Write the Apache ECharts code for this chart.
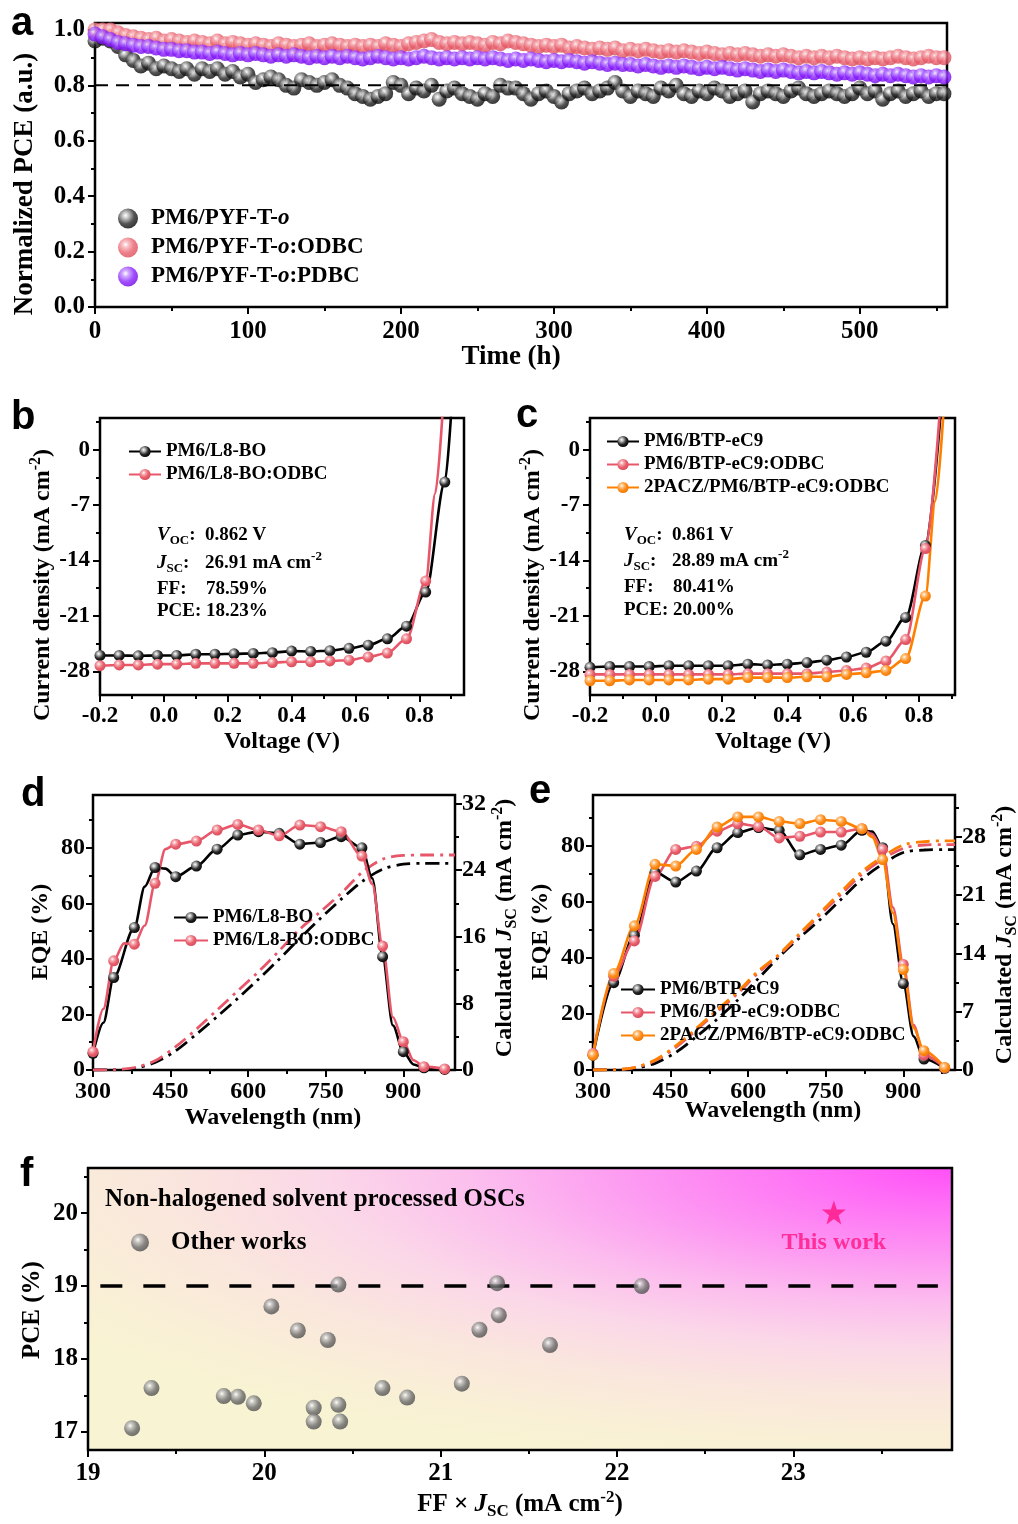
<!DOCTYPE html>
<html>
<head>
<meta charset="utf-8">
<script src="https://cdn.jsdelivr.net/npm/echarts@6.0.0/dist/echarts.min.js"></script>
<style>
  html, body { margin: 0; padding: 0; background: #fff; }
  #chart { width: 1018px; height: 1524px; }
</style>
</head>
<body>
<div id="chart"></div>
<script>
// ---------- (a) stability: normalized PCE, one reading every 5 h ----------
const stepHours = 5;
const pceBase = [
  0.96, 0.97, 0.96, 0.94, 0.91, 0.89, 0.87, 0.88, 0.86, 0.87,
  0.86, 0.85, 0.86, 0.84, 0.86, 0.85, 0.86, 0.84, 0.85, 0.83,
  0.84, 0.81, 0.82, 0.83, 0.82, 0.80, 0.79, 0.82, 0.81, 0.80,
  0.81, 0.82, 0.80, 0.79, 0.77, 0.76, 0.75, 0.76, 0.77, 0.81,
  0.80, 0.77, 0.79, 0.78, 0.80, 0.75, 0.78, 0.79, 0.77, 0.76,
  0.75, 0.77, 0.76, 0.80, 0.79, 0.79, 0.77, 0.75, 0.77, 0.78,
  0.76, 0.74, 0.77, 0.78, 0.79, 0.77, 0.78, 0.79, 0.81, 0.78,
  0.76, 0.78, 0.77, 0.76, 0.79, 0.78, 0.80, 0.77, 0.76, 0.78,
  0.77, 0.79, 0.78, 0.76, 0.77, 0.78, 0.74, 0.77, 0.78, 0.77,
  0.76, 0.78, 0.79, 0.77, 0.76, 0.77, 0.78, 0.77, 0.76, 0.77,
  0.79, 0.77, 0.78, 0.75, 0.77, 0.78, 0.76, 0.77, 0.78, 0.76,
  0.77, 0.77
];
const pceOdbc = [
  1.00, 1.00, 1.00, 0.99, 0.98, 0.975, 0.97, 0.965, 0.97, 0.96,
  0.965, 0.96, 0.955, 0.96, 0.955, 0.95, 0.96, 0.95, 0.955, 0.95,
  0.945, 0.95, 0.945, 0.94, 0.95, 0.945, 0.94, 0.945, 0.95, 0.94,
  0.945, 0.95, 0.945, 0.94, 0.945, 0.94, 0.945, 0.94, 0.95, 0.945,
  0.94, 0.95, 0.955, 0.96, 0.965, 0.955, 0.95, 0.955, 0.95, 0.955,
  0.95, 0.945, 0.955, 0.95, 0.96, 0.955, 0.95, 0.945, 0.94, 0.945,
  0.94, 0.945, 0.935, 0.94, 0.935, 0.93, 0.935, 0.93, 0.935, 0.925,
  0.93, 0.925, 0.93, 0.925, 0.92, 0.925, 0.92, 0.925, 0.92, 0.915,
  0.92, 0.915, 0.91, 0.915, 0.91, 0.915, 0.91, 0.905, 0.91, 0.905,
  0.91, 0.905, 0.90, 0.905, 0.90, 0.905, 0.90, 0.905, 0.90, 0.895,
  0.90, 0.895, 0.90, 0.895, 0.90, 0.905, 0.90, 0.895, 0.90, 0.905,
  0.90, 0.90
];
const pcePdbc = [
  0.985, 0.975, 0.965, 0.955, 0.95, 0.945, 0.94, 0.94, 0.935, 0.93,
  0.93, 0.925, 0.925, 0.92, 0.92, 0.915, 0.92, 0.915, 0.91, 0.915,
  0.91, 0.915, 0.91, 0.905, 0.91, 0.905, 0.91, 0.905, 0.90, 0.905,
  0.90, 0.905, 0.90, 0.905, 0.90, 0.895, 0.90, 0.905, 0.90, 0.895,
  0.90, 0.895, 0.90, 0.905, 0.90, 0.895, 0.90, 0.895, 0.90, 0.895,
  0.90, 0.895, 0.90, 0.895, 0.89, 0.895, 0.89, 0.895, 0.89, 0.885,
  0.89, 0.885, 0.89, 0.885, 0.88, 0.885, 0.88, 0.875, 0.88, 0.875,
  0.875, 0.87, 0.875, 0.87, 0.865, 0.87, 0.865, 0.87, 0.865, 0.86,
  0.865, 0.86, 0.865, 0.86, 0.855, 0.86, 0.855, 0.85, 0.855, 0.85,
  0.855, 0.85, 0.845, 0.85, 0.845, 0.85, 0.845, 0.84, 0.845, 0.84,
  0.845, 0.84, 0.835, 0.84, 0.835, 0.84, 0.835, 0.83, 0.835, 0.83,
  0.835, 0.83
];
const retention = 0.8;

// ---------- (b), (c) J-V curves ----------
const voltages = [-0.2, -0.14, -0.08, -0.02, 0.04, 0.10, 0.16, 0.22, 0.28, 0.34,
  0.40, 0.46, 0.52, 0.58, 0.64, 0.70, 0.76, 0.82, 0.88];
const jvL8BO = [-26.0, -26.0, -26.05, -26.0, -26.0, -25.85, -25.85, -25.8, -25.75, -25.65,
  -25.45, -25.5, -25.4, -25.1, -24.7, -23.9, -22.3, -18.0, -4.1];
const jvL8BOTail = [[0.902, 6]];
const jvL8BOOdbc = [-27.3, -27.2, -27.2, -27.1, -27.1, -27.0, -27.0, -27.0, -27.0, -26.9,
  -26.8, -26.8, -26.7, -26.6, -26.2, -25.7, -23.9, -16.6];
const jvL8BOOdbcTail = [[0.85, -5.5], [0.875, 6]];
const jvEC9 = [-27.5, -27.4, -27.4, -27.4, -27.3, -27.3, -27.3, -27.3, -27.1, -27.2,
  -27.1, -26.9, -26.6, -26.2, -25.6, -24.2, -21.2, -12.1];
const jvEC9Tail = [[0.869, 6]];
const jvEC9Odbc = [-28.4, -28.4, -28.4, -28.4, -28.4, -28.4, -28.4, -28.4, -28.3, -28.3,
  -28.3, -28.3, -28.1, -27.9, -27.6, -26.7, -24.0, -12.5];
const jvEC9OdbcTail = [[0.866, 6]];
const jvEC9Pacz = [-29.2, -29.2, -29.1, -29.1, -29.1, -29.1, -29.0, -29.0, -28.8, -28.8,
  -28.8, -28.7, -28.7, -28.4, -28.2, -27.9, -26.4, -18.5];
const jvEC9PaczTail = [[0.85, -6.5], [0.877, 6]];

// ---------- (d), (e) EQE and integrated Jsc ----------
const wavelengths = [300, 340, 380, 420, 460, 500, 540, 580, 620, 660, 700, 740, 780, 820, 860, 900, 940, 980];
const eqeL8BO = [6.0, 33.3, 51.3, 72.9, 69.6, 73.4, 79.5, 84.6, 85.8, 85.2, 81.3, 81.9, 84.0, 80.0, 40.8, 6.6, 0.8, 0.2];
const eqeL8BOExtra = [[320, 17], [400, 66], [440, 72.5], [840, 69], [880, 16], [920, 2.0]];
const eqeL8BOOdbc = [6.6, 39.3, 45.3, 67.2, 81.3, 82.4, 86.4, 88.4, 86.4, 84.3, 88.2, 87.6, 85.8, 77.0, 44.6, 10.2, 1.2, 0.4];
const eqeL8BOOdbcExtra = [[320, 22], [360, 45.6], [400, 52], [440, 79.5], [840, 67], [880, 19], [920, 3.5]];
const eqeEC9 = [5.3, 31.1, 48.0, 70.5, 67.0, 70.9, 79.2, 84.6, 86.4, 85.4, 76.7, 78.6, 80.1, 85.4, 79.2, 30.8, 3.9, 0.6];
const eqeEC9Extra = [[840, 85], [880, 52], [920, 12]];
const eqeEC9Odbc = [5.9, 33.4, 46.0, 69.0, 78.6, 79.7, 85.1, 87.8, 86.8, 82.7, 83.3, 84.8, 84.8, 86.0, 78.6, 37.6, 5.3, 0.8];
const eqeEC9OdbcExtra = [[840, 84], [880, 58], [920, 16]];
const eqeEC9Pacz = [5.3, 34.4, 51.4, 73.3, 72.7, 78.6, 86.6, 90.2, 90.2, 88.6, 87.8, 89.2, 88.6, 86.0, 75.0, 35.8, 6.9, 0.9];
const eqeEC9PaczExtra = [[840, 83], [880, 56], [920, 15]];

const jscWavelengths = [300, 340, 380, 420, 460, 500, 540, 580, 620, 660, 700, 740, 780, 820, 860, 900, 940, 980, 1000];
const jscL8BO = [0, 0.02, 0.2, 0.9, 2.3, 4.3, 6.4, 8.6, 10.9, 13.3, 15.8, 18.2, 20.5, 22.6, 24.1, 24.7, 24.8, 24.8, 24.8];
const jscL8BOOdbc = [0, 0.03, 0.3, 1.1, 2.8, 4.9, 7.2, 9.5, 11.8, 14.3, 16.9, 19.0, 21.2, 23.7, 25.3, 25.75, 25.8, 25.8, 25.8];
const jscEC9 = [0, 0.02, 0.2, 0.8, 2.1, 4.0, 6.1, 8.4, 11.0, 13.6, 15.9, 18.1, 20.5, 22.9, 24.7, 26.1, 26.4, 26.45, 26.45];
const jscEC9Odbc = [0, 0.03, 0.28, 1.1, 2.7, 4.8, 7.0, 9.2, 11.7, 13.8, 16.2, 18.7, 21.1, 23.5, 25.3, 26.6, 27.0, 27.05, 27.05];
const jscEC9Pacz = [0, 0.03, 0.3, 1.2, 2.9, 5.0, 7.2, 9.4, 11.9, 13.9, 16.4, 18.9, 21.4, 23.8, 25.6, 27.0, 27.4, 27.5, 27.5];

// ---------- (f) literature comparison ----------
const otherFFJsc = [19.25, 19.36, 19.77, 19.85, 19.94, 20.04, 20.19, 20.28, 20.28, 20.36, 20.42,
  20.42, 20.43, 20.67, 20.81, 21.12, 21.22, 21.32, 21.33, 21.62, 22.14];
const otherPCE = [17.05, 17.60, 17.49, 17.48, 17.39, 18.72, 18.39, 17.33, 17.14, 18.26, 19.02,
  17.37, 17.14, 17.60, 17.47, 17.66, 18.40, 19.04, 18.60, 18.19, 19.00];
const thisWork = [23.23, 20.01];
const pceGuide = 19;
const pceGuideSpan = [19.07, 23.82];

// tick positions
const ticksA = { x: [0, 100, 200, 300, 400, 500], xm: [50, 150, 250, 350, 450, 550],
  y: [0, 0.2, 0.4, 0.6, 0.8, 1.0], ym: [0.1, 0.3, 0.5, 0.7, 0.9] };
const ticksJV = { x: [-0.2, 0, 0.2, 0.4, 0.6, 0.8], xm: [-0.1, 0.1, 0.3, 0.5, 0.7, 0.9],
  y: [-28, -21, -14, -7, 0], ym: [-31.5, -24.5, -17.5, -10.5, -3.5, 3.5] };
const ticksEQE = { x: [300, 450, 600, 750, 900], xm: [375, 525, 675, 825, 975],
  y: [0, 20, 40, 60, 80], ym: [10, 30, 50, 70, 90] };
const ticksJscD = { y: [0, 8, 16, 24, 32], ym: [4, 12, 20, 28] };
const ticksJscE = { y: [0, 7, 14, 21, 28], ym: [3.5, 10.5, 17.5, 24.5, 31.5] };
const ticksF = { x: [19, 20, 21, 22, 23], xm: [19.5, 20.5, 21.5, 22.5, 23.5],
  y: [17, 18, 19, 20], ym: [17.5, 18.5, 19.5, 20.5] };

const FONT = "'Liberation Serif', 'Times New Roman', serif";
const SANS = "'Liberation Sans', Arial, sans-serif";

function rich(size, lh) {
  const base = { fontFamily: FONT, fontWeight: 'bold', fontSize: size, color: '#000', lineHeight: lh };
  const small = Math.round(size * 0.66);
  const sl = lh - 14;
  return {
    n: base,
    i: Object.assign({}, base, { fontStyle: 'italic' }),
    sub: Object.assign({}, base, { fontSize: small, lineHeight: sl, verticalAlign: 'bottom' }),
    sup: Object.assign({}, base, { fontSize: small, lineHeight: sl, verticalAlign: 'top' })
  };
}

function ball(stops) {
  return new echarts.graphic.RadialGradient(0.38, 0.35, 0.7, [
    { offset: 0, color: '#ffffff' },
    { offset: 0.22, color: stops[0] },
    { offset: 0.6, color: stops[1] },
    { offset: 1, color: stops[2] }
  ]);
}
const BALL_BLACK = ['#b8b8b8', '#2a2a2a', '#000000'];
const BALL_RED = ['#f6b0b6', '#e8606d', '#d94a59'];
const BALL_PURPLE = ['#c596ff', '#8a22ff', '#6e00e0'];
const BALL_ORANGE = ['#ffc78a', '#ff8c1a', '#ef7600'];
const BALL_GREY = ['#bcbcbc', '#6c6c6c', '#484848'];
const RED = '#e8566a';
const ORANGE = '#ff8000';

const grids = [
  { left: 95, top: 23, width: 852, height: 284 },
  { left: 100, top: 418, width: 364, height: 277 },
  { left: 590, top: 418, width: 365, height: 277 },
  { left: 93, top: 795, width: 362, height: 275 },
  { left: 593, top: 795, width: 362, height: 275 },
  { left: 88, top: 1168, width: 864, height: 282 }
].map(g => Object.assign({
  show: true, borderColor: '#000', borderWidth: 2.5, backgroundColor: 'transparent',
  containLabel: false, outerBoundsMode: 'none'
}, g));

// panel f background: elliptical glow from the top-right corner
const glowStretch = 3.5;
const glowBox = grids[5];
const glowBackground = {
  type: 'rect', z: -10, silent: true,
  x: glowBox.left, y: glowBox.top, scaleX: glowStretch, scaleY: 1,
  shape: { x: 0, y: 0, width: glowBox.width / glowStretch, height: glowBox.height },
  style: {
    fill: new echarts.graphic.RadialGradient(glowBox.width / glowStretch, 0, 300, [
      { offset: 0, color: '#ff50f7' },
      { offset: 0.12, color: '#ff6ef6' },
      { offset: 0.3, color: '#fd98f2' },
      { offset: 0.45, color: '#fcbdee' },
      { offset: 0.6, color: '#fbd8e8' },
      { offset: 0.75, color: '#fae6dd' },
      { offset: 0.9, color: '#f9efd6' },
      { offset: 1, color: '#f8f3d3' }
    ], true)
  }
};

const xAxes = [];
const yAxes = [];
function axisPair(list, gridIndex, o) {
  const idx = list.length;
  const common = { type: 'value', gridIndex, min: o.min, max: o.max, position: o.position,
    axisLine: { show: false, onZero: false }, splitLine: { show: false }, axisPointer: { show: false } };
  list.push(Object.assign({}, common, {
    axisTick: { show: true, inside: false, length: 7, customValues: o.majors, lineStyle: { color: '#000', width: 2 } },
    axisLabel: { show: true, customValues: o.majors, margin: o.margin, formatter: o.fmt || (v => String(v)),
      color: '#000', fontFamily: FONT, fontWeight: 'bold', fontSize: o.size }
  }));
  list.push(Object.assign({}, common, {
    axisTick: { show: true, inside: false, length: 4, customValues: o.minors, lineStyle: { color: '#000', width: 2 } },
    axisLabel: { show: false }
  }));
  return idx;
}
const fix1 = v => v.toFixed(1);

const axA = { x: axisPair(xAxes, 0, { min: 0, max: 557, majors: ticksA.x, minors: ticksA.xm, position: 'bottom', margin: 12, size: 25 }),
  y: axisPair(yAxes, 0, { min: 0, max: 1.025, majors: ticksA.y, minors: ticksA.ym, position: 'left', margin: 10, size: 25, fmt: fix1 }) };
const axB = { x: axisPair(xAxes, 1, { min: -0.2, max: 0.94, majors: ticksJV.x, minors: ticksJV.xm, position: 'bottom', margin: 10, size: 23, fmt: fix1 }),
  y: axisPair(yAxes, 1, { min: -31, max: 4, majors: ticksJV.y, minors: ticksJV.ym, position: 'left', margin: 10, size: 23 }) };
const axC = { x: axisPair(xAxes, 2, { min: -0.2, max: 0.91, majors: ticksJV.x, minors: ticksJV.xm, position: 'bottom', margin: 10, size: 23, fmt: fix1 }),
  y: axisPair(yAxes, 2, { min: -31, max: 4, majors: ticksJV.y, minors: ticksJV.ym, position: 'left', margin: 10, size: 23 }) };
const axD = { x: axisPair(xAxes, 3, { min: 300, max: 1000, majors: ticksEQE.x, minors: ticksEQE.xm, position: 'bottom', margin: 10, size: 24 }),
  y: axisPair(yAxes, 3, { min: 0, max: 99, majors: ticksEQE.y, minors: ticksEQE.ym, position: 'left', margin: 8, size: 24 }),
  y2: axisPair(yAxes, 3, { min: 0, max: 33, majors: ticksJscD.y, minors: ticksJscD.ym, position: 'right', margin: 7, size: 24 }) };
const axE = { x: axisPair(xAxes, 4, { min: 300, max: 1000, majors: ticksEQE.x, minors: ticksEQE.xm, position: 'bottom', margin: 10, size: 24 }),
  y: axisPair(yAxes, 4, { min: 0, max: 98, majors: ticksEQE.y, minors: ticksEQE.ym, position: 'left', margin: 8, size: 24 }),
  y2: axisPair(yAxes, 4, { min: 0, max: 33, majors: ticksJscE.y, minors: ticksJscE.ym, position: 'right', margin: 7, size: 24 }) };
const axF = { x: axisPair(xAxes, 5, { min: 19, max: 23.9, majors: ticksF.x, minors: ticksF.xm, position: 'bottom', margin: 11, size: 25 }),
  y: axisPair(yAxes, 5, { min: 16.75, max: 20.62, majors: ticksF.y, minors: ticksF.ym, position: 'left', margin: 10, size: 25 }) };

function pairs(xs, ys) { return ys.map((y, i) => [xs[i], y]); }
function withHidden(xs, ys, extras) {
  return pairs(xs, ys).map(p => ({ value: p }))
    .concat(extras.map(p => ({ value: p, symbol: 'none' })))
    .sort((a, b) => a.value[0] - b.value[0]);
}
const hours = pceBase.map((_, i) => i * stepHours);

function scatterA(name, ys, colors) {
  return { type: 'scatter', name, xAxisIndex: axA.x, yAxisIndex: axA.y, data: pairs(hours, ys),
    symbolSize: 15, itemStyle: { color: ball(colors) }, z: 2 };
}
function markedLine(name, ax, data, lineColor, colors, size) {
  return { type: 'line', name, xAxisIndex: ax.x, yAxisIndex: ax.y, data, smooth: 0.3, smoothMonotone: 'x',
    symbol: 'circle', symbolSize: size || 11, showSymbol: true, clip: true,
    lineStyle: { color: lineColor, width: 2.6 }, itemStyle: { color: ball(colors) }, z: 3 };
}
function jscLine(name, ax, ys, color) {
  return { type: 'line', name, xAxisIndex: ax.x, yAxisIndex: ax.y2, data: pairs(jscWavelengths, ys),
    smooth: 0.3, symbol: 'none', lineStyle: { color, width: 2.8, type: [14, 6, 3, 6] }, z: 2 };
}

const series = [
  scatterA('a1', pceBase, BALL_BLACK),
  scatterA('a2', pceOdbc, BALL_RED),
  scatterA('a3', pcePdbc, BALL_PURPLE),
  { type: 'line', name: 'a-guide', xAxisIndex: axA.x, yAxisIndex: axA.y, data: [[0, retention], [557, retention]],
    symbol: 'none', lineStyle: { color: '#000', width: 2, type: [13, 8] }, z: 4 },

  markedLine('b1', axB, withHidden(voltages, jvL8BO, jvL8BOTail), '#000', BALL_BLACK),
  markedLine('b2', axB, withHidden(voltages, jvL8BOOdbc, jvL8BOOdbcTail), RED, BALL_RED),

  markedLine('c1', axC, withHidden(voltages, jvEC9, jvEC9Tail), '#000', BALL_BLACK),
  markedLine('c2', axC, withHidden(voltages, jvEC9Odbc, jvEC9OdbcTail), RED, BALL_RED),
  markedLine('c3', axC, withHidden(voltages, jvEC9Pacz, jvEC9PaczTail), ORANGE, BALL_ORANGE),

  jscLine('d-j1', axD, jscL8BO, '#000'),
  jscLine('d-j2', axD, jscL8BOOdbc, RED),
  markedLine('d1', axD, withHidden(wavelengths, eqeL8BO, eqeL8BOExtra), '#000', BALL_BLACK),
  markedLine('d2', axD, withHidden(wavelengths, eqeL8BOOdbc, eqeL8BOOdbcExtra), RED, BALL_RED),

  jscLine('e-j1', axE, jscEC9, '#000'),
  jscLine('e-j2', axE, jscEC9Odbc, RED),
  jscLine('e-j3', axE, jscEC9Pacz, ORANGE),
  markedLine('e1', axE, withHidden(wavelengths, eqeEC9, eqeEC9Extra), '#000', BALL_BLACK),
  markedLine('e2', axE, withHidden(wavelengths, eqeEC9Odbc, eqeEC9OdbcExtra), RED, BALL_RED),
  markedLine('e3', axE, withHidden(wavelengths, eqeEC9Pacz, eqeEC9PaczExtra), ORANGE, BALL_ORANGE),

  { type: 'line', name: 'f-guide', xAxisIndex: axF.x, yAxisIndex: axF.y,
    data: [[pceGuideSpan[0], pceGuide], [pceGuideSpan[1], pceGuide]],
    symbol: 'none', lineStyle: { color: '#000', width: 3.5, type: [22, 21] }, z: 1 },
  { type: 'scatter', name: 'f1', xAxisIndex: axF.x, yAxisIndex: axF.y, data: pairs(otherFFJsc, otherPCE),
    symbolSize: 16, itemStyle: { color: ball(BALL_GREY) }, z: 3 },
  { type: 'scatter', name: 'f-star', xAxisIndex: axF.x, yAxisIndex: axF.y, data: [thisWork],
    symbol: 'path://M0,-10L2.35,-3.24L9.51,-3.09L3.8,1.24L5.88,8.09L0,4L-5.88,8.09L-3.8,1.24L-9.51,-3.09L-2.35,-3.24Z',
    symbolSize: 24, itemStyle: { color: '#ff1483' }, z: 3,
    label: { show: true, position: 'bottom', distance: 6, formatter: 'This work', color: '#ff1483',
      fontFamily: FONT, fontWeight: 'bold', fontSize: 24 } }
];

const legendNames = {
  a1: '{n|PM6/PYF-T-}{i|o}', a2: '{n|PM6/PYF-T-}{i|o}{n|:ODBC}', a3: '{n|PM6/PYF-T-}{i|o}{n|:PDBC}',
  b1: '{n|PM6/L8-BO}', b2: '{n|PM6/L8-BO:ODBC}',
  c1: '{n|PM6/BTP-eC9}', c2: '{n|PM6/BTP-eC9:ODBC}', c3: '{n|2PACZ/PM6/BTP-eC9:ODBC}',
  d1: '{n|PM6/L8-BO}', d2: '{n|PM6/L8-BO:ODBC}',
  e1: '{n|PM6/BTP-eC9}', e2: '{n|PM6/BTP-eC9:ODBC}', e3: '{n|2PACZ/PM6/BTP-eC9:ODBC}',
  f1: '{n|Other works}'
};
function legend(names, left, top, w, h, gap, size) {
  return { show: true, orient: 'vertical', left, top, itemWidth: w, itemHeight: h, itemGap: gap, padding: 0,
    selectedMode: false, data: names, formatter: n => legendNames[n],
    textStyle: { fontFamily: FONT, fontWeight: 'bold', fontSize: size, color: '#000', rich: rich(size, size + 2) } };
}

function label(x, y, text, size, opts) {
  return Object.assign({ type: 'text', x, y, z: 20,
    style: { text, rich: rich(size, size + 6), align: 'left', verticalAlign: 'middle' } }, opts || {});
}
function title(x, y, text, size, vertical) {
  return { type: 'text', x, y, rotation: vertical ? Math.PI / 2 : 0, z: 20,
    style: { text, rich: rich(size, size + 6), align: 'center', verticalAlign: 'middle' } };
}
function letter(x, y, ch) {
  return { type: 'text', x, y, z: 20,
    style: { text: ch, fontFamily: SANS, fontWeight: 'bold', fontSize: 40, fill: '#000', align: 'left', verticalAlign: 'middle' } };
}
const unitJ = '{n|(mA cm}{sup|-2}{n|)}';

const graphic = [
  glowBackground,
  letter(11, 24, 'a'), letter(11, 418, 'b'), letter(516, 416, 'c'),
  letter(21, 795, 'd'), letter(529, 792, 'e'), letter(20, 1175, 'f'),

  title(25, 184, '{n|Normalized PCE (a.u.)}', 27, true),
  title(511, 357, '{n|Time (h)}', 27),

  title(43, 585, '{n|Current density }' + unitJ, 24, true),
  title(282, 742, '{n|Voltage (V)}', 24),
  title(533, 585, '{n|Current density }' + unitJ, 24, true),
  title(773, 742, '{n|Voltage (V)}', 24),

  title(41, 932, '{n|EQE (%)}', 24, true),
  title(505, 928, '{n|Calculated }{i|J}{sub|SC}{n| }' + unitJ, 24, true),
  title(273, 1118, '{n|Wavelength (nm)}', 24),
  title(541, 932, '{n|EQE (%)}', 24, true),
  title(1005, 935, '{n|Calculated }{i|J}{sub|SC}{n| }' + unitJ, 24, true),
  title(773, 1111, '{n|Wavelength (nm)}', 24),

  title(33, 1310, '{n|PCE (%)}', 25, true),
  title(520, 1505, '{n|FF × }{i|J}{sub|SC}{n| }' + unitJ, 25),
  label(105, 1200, '{n|Non-halogened solvent processed OSCs}', 25),

  label(157, 535, '{i|V}{sub|OC}{n|:}', 19), label(205, 535, '{n|0.862 V}', 19),
  label(157, 563, '{i|J}{sub|SC}{n|:}', 19), label(205, 563, '{n|26.91 mA cm}{sup|-2}', 19),
  label(157, 589, '{n|FF:}', 19), label(206, 589, '{n|78.59%}', 19),
  label(157, 611, '{n|PCE: 18.23%}', 19),

  label(624, 535, '{i|V}{sub|OC}{n|:}', 19), label(672, 535, '{n|0.861 V}', 19),
  label(624, 561, '{i|J}{sub|SC}{n|:}', 19), label(672, 561, '{n|28.89 mA cm}{sup|-2}', 19),
  label(624, 587, '{n|FF:}', 19), label(673, 587, '{n|80.41%}', 19),
  label(624, 610, '{n|PCE: 20.00%}', 19)
];

const option = {
  animation: false,
  backgroundColor: '#fff',
  grid: grids,
  xAxis: xAxes,
  yAxis: yAxes,
  legend: [
    legend(['a1', 'a2', 'a3'], 118, 207, 36, 20, 6, 23),
    legend(['b1', 'b2'], 128, 442, 32, 14, 4, 19),
    legend(['c1', 'c2', 'c3'], 606, 432, 32, 14, 4, 19),
    legend(['d1', 'd2'], 173, 908, 34, 14, 4, 19),
    legend(['e1', 'e2', 'e3'], 620, 980, 34, 14, 4, 19),
    legend(['f1'], 131, 1230, 52, 18, 4, 25)
  ],
  series,
  graphic
};

const chart = echarts.init(document.getElementById('chart'), null, { renderer: 'canvas', width: 1018, height: 1524 });
chart.setOption(option);
</script>
</body>
</html>
